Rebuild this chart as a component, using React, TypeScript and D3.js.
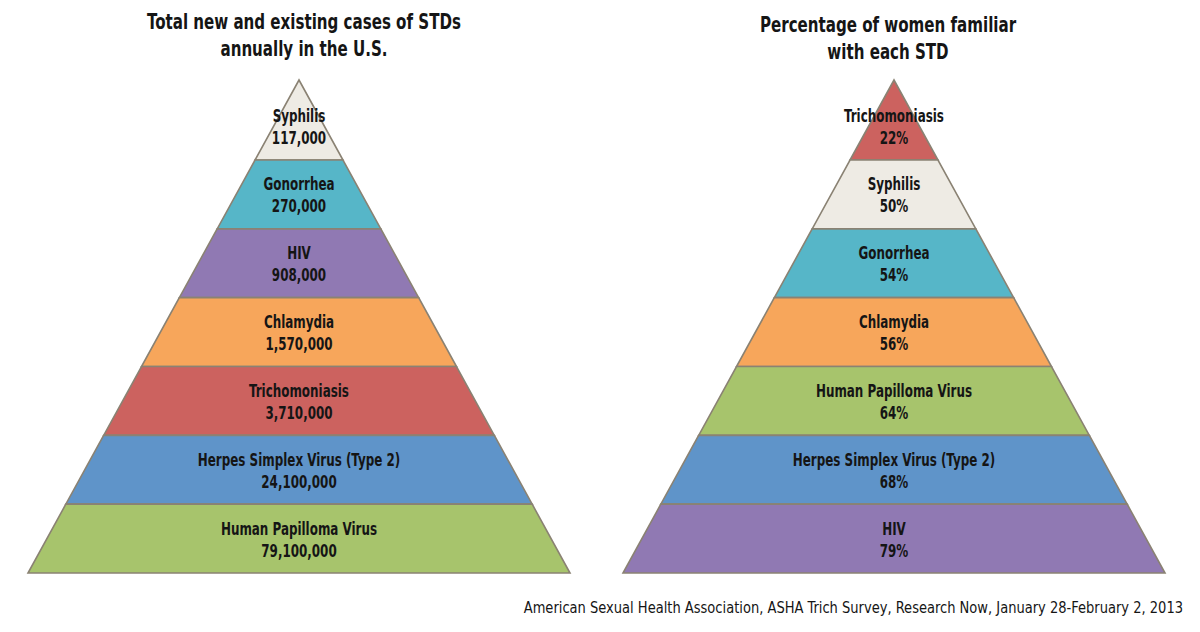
import React from "react";
import * as d3 from "d3";

const leftNames = ["Syphilis", "Gonorrhea", "HIV", "Chlamydia", "Trichomoniasis", "Herpes Simplex Virus (Type 2)", "Human Papilloma Virus"];
const leftValues = ["117,000", "270,000", "908,000", "1,570,000", "3,710,000", "24,100,000", "79,100,000"];
const rightNames = ["Trichomoniasis", "Syphilis", "Gonorrhea", "Chlamydia", "Human Papilloma Virus", "Herpes Simplex Virus (Type 2)", "HIV"];
const rightValues = ["22%", "50%", "54%", "56%", "64%", "68%", "79%"];
const colorByName: Record<string, string> = {
  "Syphilis": "#eeebe4",
  "Gonorrhea": "#56b6c8",
  "HIV": "#9079b3",
  "Chlamydia": "#f7a65b",
  "Trichomoniasis": "#cc625f",
  "Herpes Simplex Virus (Type 2)": "#5f94c9",
  "Human Papilloma Virus": "#a7c46c",
};
const leftTitle = ["Total new and existing cases of STDs", "annually in the U.S."];
const rightTitle = ["Percentage of women familiar", "with each STD"];
const source = "American Sexual Health Association, ASHA Trich Survey, Research Now, January 28-February 2, 2013";

const FONT = "'DejaVu Sans Condensed', 'DejaVu Sans', sans-serif";

function SqText({ x, y, sx, size, bold, anchor, children }: { x: number; y: number; sx: number; size: number; bold?: boolean; anchor: string; children: React.ReactNode }) {
  return (
    <text
      transform={`translate(${x},${y}) scale(${sx},1)`}
      textAnchor={anchor}
      dominantBaseline="central"
      fontFamily={FONT}
      fontWeight={bold ? "bold" : "normal"}
      fontSize={size}
      fill="#151515"
    >
      {children}
    </text>
  );
}

function Pyramid({ names, values, cx }: { names: string[]; values: string[]; cx: number }) {
  const n = names.length;
  const y = d3.scaleLinear().domain([0, 1, n]).range([80, 160, 573]);
  const halfW = d3.scaleLinear().domain([80, 573]).range([0, 271]);
  return (
    <g>
      {names.map((name, i) => {
        const y0 = y(i);
        const y1 = y(i + 1);
        const w0 = halfW(y0);
        const w1 = halfW(y1);
        const pts: [number, number][] = [
          [cx - w0, y0], [cx + w0, y0], [cx + w1, y1], [cx - w1, y1],
        ];
        const path = d3.line()(pts) + "Z";
        return (
          <g key={name}>
            <path d={path} fill={colorByName[name]} stroke="#8a8273" strokeWidth={1.6} strokeLinejoin="miter" />
            <SqText x={cx} y={y1 - 44} sx={0.78} size={17} bold anchor="middle">{name}</SqText>
            <SqText x={cx} y={y1 - 22} sx={0.78} size={17} bold anchor="middle">{values[i]}</SqText>
          </g>
        );
      })}
    </g>
  );
}

export default function App() {
  return (
    <svg width={1200} height={632} style={{ position: "absolute", left: 0, top: 0, background: "#fff" }}>
      <rect width={1200} height={632} fill="#fff" />
      {leftTitle.map((t, i) => (
        <SqText key={t} x={304} y={22 + i * 27} sx={0.78} size={21.5} bold anchor="middle">{t}</SqText>
      ))}
      {rightTitle.map((t, i) => (
        <SqText key={t} x={888} y={25 + i * 27} sx={0.78} size={21.5} bold anchor="middle">{t}</SqText>
      ))}
      <Pyramid names={leftNames} values={leftValues} cx={299} />
      <Pyramid names={rightNames} values={rightValues} cx={894} />
      <SqText x={1183} y={608} sx={0.88} size={16.5} anchor="end">{source}</SqText>
    </svg>
  );
}
